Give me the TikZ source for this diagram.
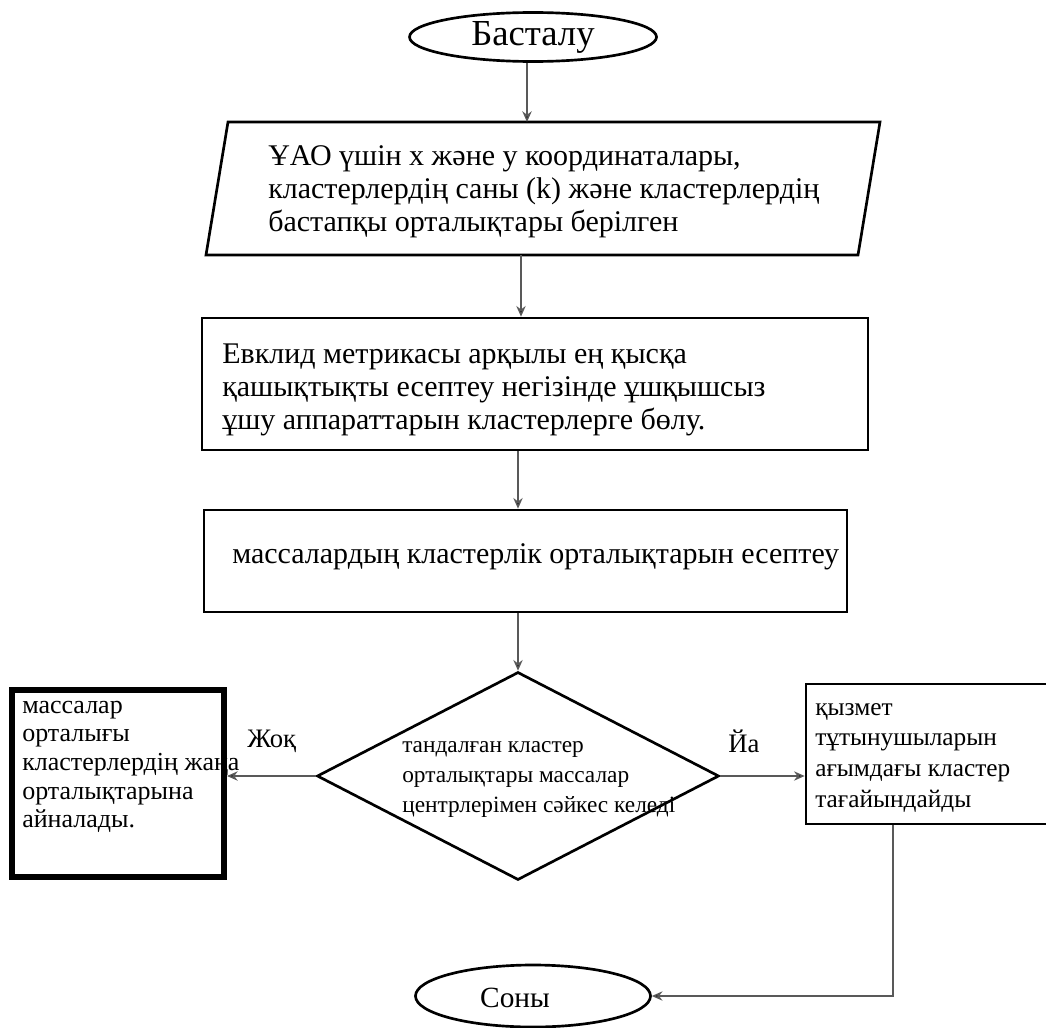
\documentclass[tikz,border=0pt]{standalone}
\usepackage{fontspec}
\setmainfont{Liberation Serif}
\usetikzlibrary{arrows.meta,shapes.geometric,calc}
\newcommand\mylines[1]{\begin{tabular}[t]{@{}l@{}}#1\end{tabular}}
\begin{document}
\begin{tikzpicture}[x=0.75pt,y=-0.75pt,
  box/.style={draw=black,line width=2pt,inner sep=0pt},
  conn/.style={draw=black!65,line width=1.1pt,-{Stealth[length=8pt,width=7pt,fill=black]}},
  ttext/.style={anchor=base west,inner sep=0pt,font=\fontsize{22.5}{25}\selectfont},
  ]
\useasboundingbox[fill=white] (0,0) rectangle (1046,1028);

% start
\node[box,ellipse,minimum width=247*0.75pt,minimum height=49*0.75pt,
      font=\fontsize{27.5}{30}\selectfont] (start) at (533,37) {Басталу};

% input parallelogram
\draw[box] (228,122) -- (880,122) -- (858,255) -- (206,255) -- cycle;
\coordinate (paraIn) at (527,122);
\coordinate (paraOut) at (521,255);
\node[ttext] (ptext) at (268,165)
  {\mylines{ҰАО үшін x және y координаталары,\\
   кластерлердің саны (k) және кластерлердің\\
   бастапқы орталықтары берілген}};

% process 1
\node[box,minimum width=666*0.75pt,minimum height=132*0.75pt] (r2) at (535,384) {};
\node[ttext] (r2text) at (222,363)
  {\mylines{Евклид метрикасы арқылы ең қысқа\\
   қашықтықты есептеу негізінде ұшқышсыз\\
   ұшу аппараттарын кластерлерге бөлу.}};

% process 2
\node[box,minimum width=643*0.75pt,minimum height=102*0.75pt] (r3) at (525.5,561) {};
\node[ttext] (r3text) at (232,563) {массалардың кластерлік орталықтарын есептеу};

% decision
\node[box,diamond,minimum width=402*0.75pt,minimum height=208*0.75pt] (dec) at (518,776) {};
\node[anchor=base west,inner sep=0pt,font=\fontsize{17.5}{22.5}\selectfont] (dectext) at (402,752)
  {\mylines{тандалған кластер\\
   орталықтары массалар\\
   центрлерімен сәйкес келеді}};

% left box
\node[draw=black,line width=4.5pt,minimum width=212*0.75pt,minimum height=187*0.75pt,inner sep=0pt]
  (lbox) at (118,783.5) {};
\node[anchor=base west,inner sep=0pt,font=\fontsize{19.5}{21.5}\selectfont] (ltext) at (22,713)
  {\mylines{массалар\\
   орталығы\\
   кластерлердің жаңа\\
   орталықтарына\\
   айналады.}};

% right box
\node[box,minimum width=246*0.75pt,minimum height=140*0.75pt] (rbox) at (929,754) {};
\node[anchor=base west,inner sep=0pt,font=\fontsize{19}{23}\selectfont] (rtext) at (815,715)
  {\mylines{қызмет\\
   тұтынушыларын\\
   ағымдағы кластер\\
   тағайындайды}};

% end
\node[box,ellipse,minimum width=235*0.75pt,minimum height=62*0.75pt] (end) at (533,996) {};
\node[font=\fontsize{22}{26}\selectfont,inner sep=0pt] (endtext) at (515,998) {Соны};

% labels
\node[anchor=base west,inner sep=0pt,font=\fontsize{20}{24}\selectfont] (no) at (247,747) {Жоқ};
\node[anchor=base west,inner sep=0pt,font=\fontsize{20}{24}\selectfont] (yes) at (728,752) {Йа};

% connectors
\draw[conn] (start.south -| paraIn) -- (paraIn);
\draw[conn] (paraOut) -- (paraOut |- r2.north);
\draw[conn] (r2.south -| dec.north) -- (r3.north -| dec.north);
\draw[conn] (r3.south -| dec.north) -- (dec.north);
\draw[conn] (dec.west) -- (dec.west -| lbox.east);
\draw[conn] (dec.east) -- (dec.east -| rbox.west);
\draw[conn] ([xshift=-36*0.75pt]rbox.south) |- (end.east);
\end{tikzpicture}
\end{document}
